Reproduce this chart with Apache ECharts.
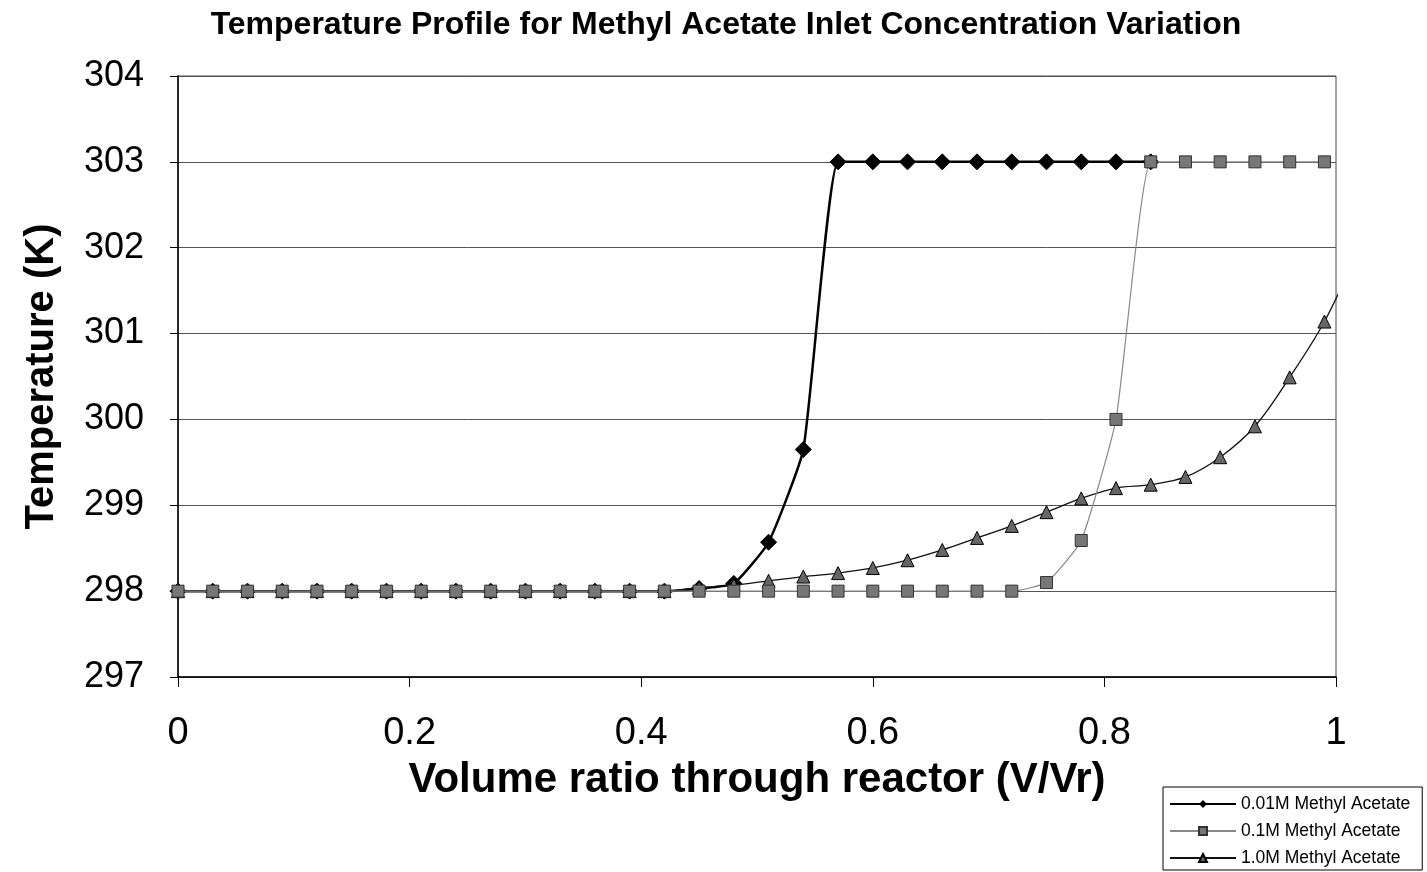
<!DOCTYPE html>
<html>
<head>
<meta charset="utf-8">
<script src="https://cdn.jsdelivr.net/npm/echarts@6/dist/echarts.min.js"></script>
<style>
html,body{margin:0;padding:0;background:#fff;}
#chart{width:1427px;height:872px;}
</style>
</head>
<body>
<div id="chart"></div>
<script>
var xValues = [0, 0.03, 0.06, 0.09, 0.12, 0.15, 0.18, 0.21, 0.24, 0.27, 0.30, 0.33, 0.36, 0.39, 0.42, 0.45, 0.48, 0.51, 0.54, 0.57, 0.60, 0.63, 0.66, 0.69, 0.72, 0.75, 0.78, 0.81, 0.84, 0.87, 0.90, 0.93, 0.96, 0.99, 1.02];
var seriesNames = ['0.01M Methyl Acetate', '0.1M Methyl Acetate', '1.0M Methyl Acetate'];
var temp001 = [298, 298, 298, 298, 298, 298, 298, 298, 298, 298, 298, 298, 298, 298, 298, 298.03, 298.09, 298.57, 299.65, 303, 303, 303, 303, 303, 303, 303, 303, 303, 303];
var temp01 = [298, 298, 298, 298, 298, 298, 298, 298, 298, 298, 298, 298, 298, 298, 298, 298, 298, 298, 298, 298, 298, 298, 298, 298, 298, 298.1, 298.59, 300.0, 303, 303, 303, 303, 303, 303];
var temp10 = [298, 298, 298, 298, 298, 298, 298, 298, 298, 298, 298, 298, 298, 298, 298, 298.04, 298.07, 298.12, 298.17, 298.21, 298.27, 298.36, 298.48, 298.62, 298.76, 298.92, 299.08, 299.2, 299.24, 299.33, 299.56, 299.92, 300.49, 301.14, 302.0];
var xTickLabels = ['0', '0.2', '0.4', '0.6', '0.8', '1'];

function pairs(vals) {
  return vals.map(function (v, i) { return [xValues[i], v]; });
}

var FONT = '"Liberation Sans", Arial, sans-serif';
var chart = echarts.init(document.getElementById('chart'), null, {renderer: 'canvas'});
chart.setOption({
  animation: false,
  backgroundColor: '#ffffff',
  title: {
    text: 'Temperature Profile for Methyl Acetate Inlet Concentration Variation',
    left: 721, top: 4, textAlign: 'center',
    textStyle: {fontFamily: FONT, fontWeight: 'bold', fontSize: 32, color: '#000'}
  },
  grid: {
    left: 178, right: 91, top: 76, bottom: 195,
    show: true, borderColor: '#444', borderWidth: 1, backgroundColor: 'transparent'
  },
  legend: {
    orient: 'vertical', left: 1163, top: 787,
    data: seriesNames,
    itemWidth: 66, itemHeight: 10, itemGap: 9,
    padding: [8, 12, 3, 6],
    borderColor: '#000', borderWidth: 1, borderRadius: 0,
    textStyle: {fontFamily: FONT, fontSize: 17.5, color: '#000'}
  },
  xAxis: {
    type: 'value', min: 0, max: 1, interval: 0.2,
    axisLine: {show: true, onZero: false, lineStyle: {color: '#000', width: 1.5}},
    axisTick: {show: true, length: 10, lineStyle: {color: '#000'}},
    splitLine: {show: false},
    axisLabel: {
      fontFamily: FONT, fontSize: 38, color: '#000', margin: 38,
      formatter: function (v) { var i = Math.round(v / 0.2); return xTickLabels[i]; }
    },
    name: 'Volume ratio through reactor (V/Vr)',
    nameLocation: 'middle', nameGap: 82,
    nameTextStyle: {fontFamily: FONT, fontWeight: 'bold', fontSize: 42, color: '#000'}
  },
  yAxis: {
    type: 'value', min: 297, max: 304, interval: 1,
    axisLine: {show: true, lineStyle: {color: '#000', width: 1.5}},
    axisTick: {show: true, length: 8, lineStyle: {color: '#000'}},
    splitLine: {show: true, lineStyle: {color: '#555', width: 1}},
    axisLabel: {fontFamily: FONT, fontSize: 36, color: '#000', margin: 34},
    name: 'Temperature (K)',
    nameLocation: 'middle', nameGap: 116,
    nameTextStyle: {fontFamily: FONT, fontWeight: 'bold', fontSize: 40, color: '#000'}
  },
  series: [
    {
      name: seriesNames[0], type: 'line', data: pairs(temp001), smooth: 0.15,
      symbol: 'diamond', symbolSize: 16, showAllSymbol: true, z: 2,
      lineStyle: {color: '#000', width: 2.5},
      itemStyle: {color: '#000', borderColor: '#000'}
    },
    {
      name: seriesNames[2], type: 'line', data: pairs(temp10), smooth: 0.35,
      symbol: 'triangle', symbolSize: 13, showAllSymbol: true, z: 3,
      lineStyle: {color: '#111', width: 1.3},
      itemStyle: {color: '#666', borderColor: '#000', borderWidth: 1}
    },
    {
      name: seriesNames[1], type: 'line', data: pairs(temp01), smooth: 0.15,
      symbol: 'rect', symbolSize: 12, showAllSymbol: true, z: 4,
      lineStyle: {color: '#888', width: 1.2},
      itemStyle: {color: '#777', borderColor: '#333', borderWidth: 1}
    }
  ]
});
</script>
</body>
</html>
